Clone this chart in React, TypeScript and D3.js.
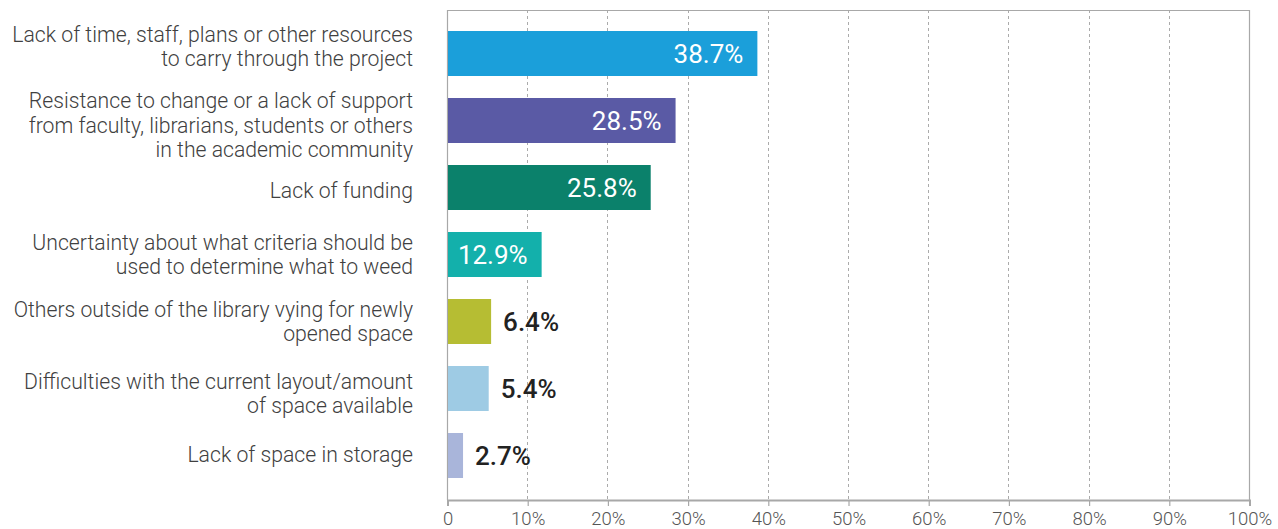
import React, { useEffect, useRef } from "react";
import * as d3 from "d3";

const categories: string[][] = [
  ["Lack of time, staff, plans or other resources", "to carry through the project"],
  ["Resistance to change or a lack of support", "from faculty, librarians, students or others", "in the academic community"],
  ["Lack of funding"],
  ["Uncertainty about what criteria should be", "used to determine what to weed"],
  ["Others outside of the library vying for newly", "opened space"],
  ["Difficulties with the current layout/amount", "of space available"],
  ["Lack of space in storage"],
];
const barValues: number[] = [38.7, 28.5, 25.4, 11.8, 5.5, 5.2, 2.0];
const valueLabels: string[] = ["38.7%", "28.5%", "25.8%", "12.9%", "6.4%", "5.4%", "2.7%"];
const labelInside: boolean[] = [true, true, true, true, false, false, false];
const colors: string[] = ["#1b9fda", "#5a5aa5", "#0b816b", "#13b0ab", "#b6bd33", "#9ecbe4", "#a9b5da"];
const ticks: number[] = [0, 10, 20, 30, 40, 50, 60, 70, 80, 90, 100];
const tickLabels: string[] = ["0", "10%", "20%", "30%", "40%", "50%", "60%", "70%", "80%", "90%", "100%"];

const W = 1278;
const H = 529;
const M = { left: 447, right: 29, top: 10, bottom: 29 };
// layout nudges for the category label blocks (vertical, px)
const LABEL_NUDGE = [-7, 5, 3, 0, 0, 5, -1];

export default function App() {
  const ref = useRef<SVGSVGElement>(null);
  useEffect(() => {
    const svg = d3.select(ref.current);
    svg.selectAll("*").remove();
    const x = d3.scaleLinear().domain([0, 100]).range([M.left, W - M.right]);
    const p = 22 / 67;
    const y = d3
      .scaleBand<number>()
      .domain(d3.range(categories.length))
      .range([20, 489])
      .paddingInner(p)
      .paddingOuter(p / 2);
    const top = M.top;
    const bottom = H - M.bottom;
    const font = "Roboto, 'Noto Sans', sans-serif";

    // dashed gridlines
    svg
      .append("g")
      .selectAll("line")
      .data(ticks.filter((t) => t > 0 && t < 100))
      .join("line")
      .attr("x1", (d) => Math.round(x(d)) + 0.5)
      .attr("x2", (d) => Math.round(x(d)) + 0.5)
      .attr("y1", top)
      .attr("y2", bottom)
      .attr("stroke", "#ababab")
      .attr("stroke-width", 1)
      .attr("stroke-dasharray", "3,3");

    // frame
    svg
      .append("path")
      .attr(
        "d",
        `M${x(0) + 0.5},${bottom}V${top + 0.5}H${x(100) + 0.5}V${bottom}`
      )
      .attr("fill", "none")
      .attr("stroke", "#a8a8a8")
      .attr("stroke-width", 1.2);

    // bottom axis
    const axis = svg
      .append("g")
      .attr("transform", `translate(0.5,${bottom})`)
      .call(
        d3
          .axisBottom(x)
          .tickValues(ticks)
          .tickSize(6)
          .tickPadding(8)
          .tickFormat((_d, i) => tickLabels[i])
      );
    axis.select(".domain").attr("stroke", "#a8a8a8").attr("stroke-width", 2);
    axis.selectAll(".tick line").attr("stroke", "#a8a8a8").attr("stroke-width", 1.2);
    axis
      .selectAll(".tick text")
      .attr("fill", "#555")
      .attr("font-size", 18.5)
      .attr("font-weight", 300)
      .attr("font-family", font)
      .attr("dy", "0.6em");

    // bars
    svg
      .append("g")
      .selectAll("rect")
      .data(barValues)
      .join("rect")
      .attr("x", x(0) + 1)
      .attr("y", (_d, i) => y(i)!)
      .attr("width", (d) => x(d) - x(0) - 1)
      .attr("height", y.bandwidth())
      .attr("fill", (_d, i) => colors[i]);

    // value labels
    svg
      .append("g")
      .selectAll("text")
      .data(barValues)
      .join("text")
      .attr("x", (d, i) => (labelInside[i] ? x(d) - 14 : x(d) + 12))
      .attr("y", (_d, i) => y(i)! + y.bandwidth() / 2)
      .attr("dy", "0.36em")
      .attr("text-anchor", (_d, i) => (labelInside[i] ? "end" : "start"))
      .attr("fill", (_d, i) => (labelInside[i] ? "#ffffff" : "#222222"))
      .attr("font-weight", (_d, i) => (labelInside[i] ? 400 : 500))
      .attr("font-size", 26)
      .attr("font-family", font)
      .text((_d, i) => valueLabels[i]);

    // category labels
    const lh = 24.5;
    const cat = svg
      .append("g")
      .selectAll("text")
      .data(categories)
      .join("text")
      .attr("text-anchor", "end")
      .attr("fill", "#404040")
      .attr("font-size", 21.2)
      .attr("font-weight", 300)
      .attr("font-family", font);
    cat.each(function (lines, i) {
      const cy = y(i)! + y.bandwidth() / 2 + LABEL_NUDGE[i];
      d3.select(this)
        .selectAll("tspan")
        .data(lines)
        .join("tspan")
        .attr("x", 413)
        .attr("y", (_l, j) => cy + (j - (lines.length - 1) / 2) * lh)
        .attr("dy", "0.35em")
        .text((l) => l);
    });
  }, []);
  return (
    <svg
      ref={ref}
      width={W}
      height={H}
      style={{ position: "absolute", left: 0, top: 0, background: "#fff" }}
    />
  );
}
